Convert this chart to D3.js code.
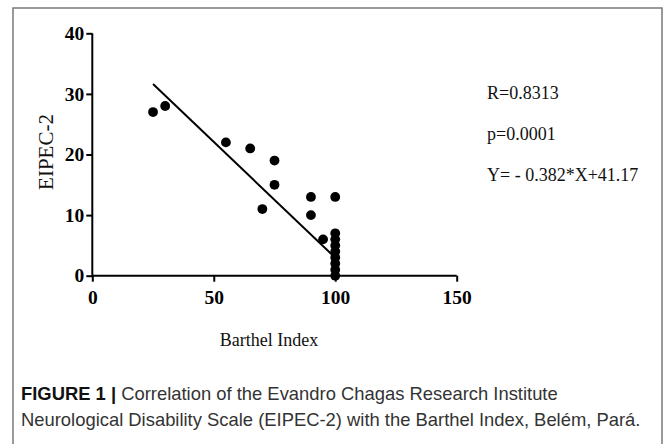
<!DOCTYPE html>
<html>
<head>
<meta charset="utf-8">
<script src="https://cdn.jsdelivr.net/npm/d3@7"></script>
<style>
  body { margin: 0; background: #fff; }
  svg { display: block; }
</style>
</head>
<body>
<script>
'use strict';

// Barthel Index (x) vs EIPEC-2 (y)
var barthel = [25, 30, 55, 65, 75, 75, 70, 90, 90, 95, 100, 100, 100, 100, 100, 100, 100, 100, 100];
var eipec   = [27, 28, 22, 21, 19, 15, 11, 13, 10, 6, 13, 7, 6, 5, 4, 3, 2, 1, 0];

var xTicks = [0, 50, 100, 150];
var yTicks = [0, 10, 20, 30, 40];

// regression: Y = -0.382*X + 41.17, drawn over observed range
var slope = -0.382, intercept = 41.17;
var fitRange = [25, 100];

var stats = ["R=0.8313", "p=0.0001", "Y= - 0.382*X+41.17"];
var captionBold = "FIGURE 1 |";
var captionLines = [
  " Correlation of the Evandro Chagas Research Institute",
  "Neurological Disability Scale (EIPEC-2) with the Barthel Index, Belém, Pará."
];

var width = 672, height = 444;
var svg = d3.select("body").append("svg")
    .attr("width", width)
    .attr("height", height);

// frame
svg.append("path")
  .attr("d", "M13,444V8H662V444")
  .attr("fill", "none")
  .attr("stroke", "#7a7a7a")
  .attr("stroke-width", 1.5);

var xScale = d3.scaleLinear().domain([0, 150]).range([92.3, 456.7]);
var yScale = d3.scaleLinear().domain([0, 40]).range([275.7, 33.3]);

var serif = "'Liberation Serif', 'Times New Roman', serif";

var xAxis = d3.axisBottom(xScale).tickValues(xTicks).tickSize(6).tickSizeOuter(0).tickPadding(8);
var gx = svg.append("g")
  .attr("transform", "translate(0," + yScale(0) + ")")
  .call(xAxis);

var yAxis = d3.axisLeft(yScale).tickValues(yTicks).tickSize(6).tickSizeOuter(0).tickPadding(2);
var gy = svg.append("g")
  .attr("transform", "translate(" + xScale(0) + ",0)")
  .call(yAxis);

[gx, gy].forEach(function(g) {
  g.selectAll("path, line").attr("stroke", "#000").attr("stroke-width", 2);
  g.selectAll("text")
    .attr("fill", "#000")
    .style("font-family", serif)
    .style("font-weight", "bold")
    .style("font-size", "19.5px");
});
gy.select(".domain").attr("d", "M0," + yScale(40) + "V" + yScale(0));
gx.select(".domain").attr("d", "M" + xScale(0) + ",0H" + xScale(150));

// regression line
var line = d3.line()
  .x(function(d) { return xScale(d); })
  .y(function(d) { return yScale(slope * d + intercept); });
svg.append("path")
  .attr("d", line(fitRange))
  .attr("fill", "none")
  .attr("stroke", "#000")
  .attr("stroke-width", 2);

// points
svg.append("g").selectAll("circle")
  .data(barthel)
  .join("circle")
    .attr("cx", function(d) { return xScale(d); })
    .attr("cy", function(d, i) { return yScale(eipec[i]); })
    .attr("r", 4.9)
    .attr("fill", "#000");

// axis titles
svg.append("text")
  .attr("x", 269)
  .attr("y", 346)
  .attr("text-anchor", "middle")
  .style("font-family", serif)
  .style("font-size", "18px")
  .attr("fill", "#111")
  .text("Barthel Index");

svg.append("text")
  .attr("transform", "translate(53,152) rotate(-90)")
  .attr("text-anchor", "middle")
  .style("font-family", serif)
  .style("font-size", "21px")
  .attr("fill", "#111")
  .text("EIPEC-2");

// stats
svg.append("g").selectAll("text")
  .data(stats)
  .join("text")
    .attr("x", 487)
    .attr("y", function(d, i) { return 99 + i * 41; })
    .style("font-family", serif)
    .style("font-size", "18px")
    .attr("fill", "#111")
    .text(function(d) { return d; });

// caption
var sans = "'Liberation Sans', Arial, sans-serif";
var cap1 = svg.append("text")
  .attr("x", 21)
  .attr("y", 400)
  .style("font-family", sans)
  .style("font-size", "18.4px")
  .attr("fill", "#333");
cap1.append("tspan").style("font-weight", "bold").attr("fill", "#111").text(captionBold);
cap1.append("tspan").text(captionLines[0]);

svg.append("text")
  .attr("x", 21)
  .attr("y", 426)
  .style("font-family", sans)
  .style("font-size", "18.4px")
  .attr("fill", "#333")
  .text(captionLines[1]);
</script>
</body>
</html>
